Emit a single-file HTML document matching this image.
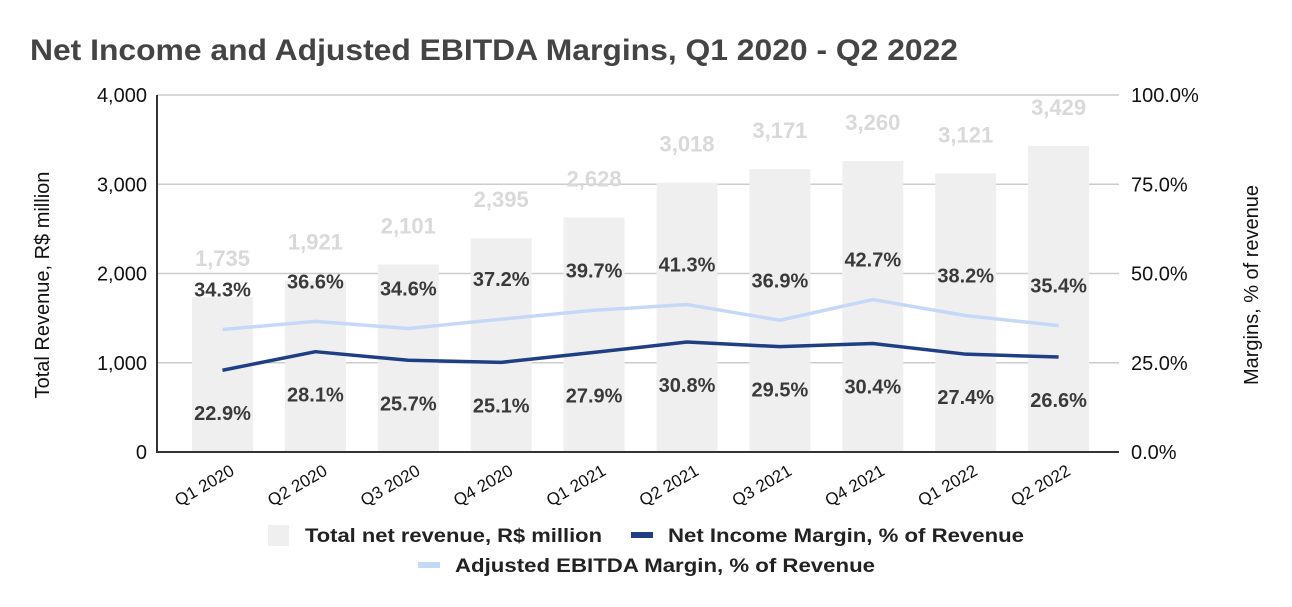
<!DOCTYPE html>
<html><head><meta charset="utf-8"><style>
html,body{margin:0;padding:0;background:#fff;width:1292px;height:607px;overflow:hidden}
svg text{font-family:"Liberation Sans",Arial,sans-serif}
</style></head><body>
<svg id="chart" width="1292" height="607" viewBox="0 0 1292 607" xmlns="http://www.w3.org/2000/svg">
<text x="30" y="60" font-size="30" font-weight="bold" fill="#444" textLength="928" lengthAdjust="spacingAndGlyphs">Net Income and Adjusted EBITDA Margins, Q1 2020 - Q2 2022</text>
<g id="grid"></g>
<g id="bars"></g>
<g id="lines"></g>
<g id="labels"></g>
<g id="axes"></g>
<text transform="translate(49,285) rotate(-90)" text-anchor="middle" font-size="20" fill="#111">Total Revenue, R$ million</text>
<text transform="translate(1258,285) rotate(-90)" text-anchor="middle" font-size="20" fill="#111">Margins, % of revenue</text>
<g>
<rect x="268" y="525" width="21" height="21" fill="#efefef"/>
<text x="305" y="542" font-size="19" font-weight="bold" fill="#222" textLength="297" lengthAdjust="spacingAndGlyphs">Total net revenue, R$ million</text>
<rect x="631" y="532" width="22" height="6" fill="#1f3f84"/>
<text x="668" y="542" font-size="19" font-weight="bold" fill="#222" textLength="356" lengthAdjust="spacingAndGlyphs">Net Income Margin, % of Revenue</text>
<rect x="418" y="562" width="22" height="6" fill="#c6d8f7"/>
<text x="455" y="572" font-size="19" font-weight="bold" fill="#222" textLength="420" lengthAdjust="spacingAndGlyphs">Adjusted EBITDA Margin, % of Revenue</text>
</g>
</svg>
<script>
const categories=["Q1 2020","Q2 2020","Q3 2020","Q4 2020","Q1 2021","Q2 2021","Q3 2021","Q4 2021","Q1 2022","Q2 2022"];
const revenue=[1735,1921,2101,2395,2628,3018,3171,3260,3121,3429];
const netIncomeMargin=[22.9,28.1,25.7,25.1,27.9,30.8,29.5,30.4,27.4,26.6];
const ebitdaMargin=[34.3,36.6,34.6,37.2,39.7,41.3,36.9,42.7,38.2,35.4];
const leftTicks=[0,1000,2000,3000,4000];
const rightTicks=[0,25,50,75,100];

const NS="http://www.w3.org/2000/svg";
const top0=95,bot=452,plotL=157,plotR=1119;
function x(i){return 222.5+92.9*i;}
function yL(v){return bot-(v/4000)*(bot-top0);}
function yR(v){return bot-(v/100)*(bot-top0);}
function mk(tag,attrs,parent){const e=document.createElementNS(NS,tag);for(const k in attrs)e.setAttribute(k,attrs[k]);document.getElementById(parent).appendChild(e);return e;}
function fmt(n){return n.toLocaleString("en-US");}

leftTicks.forEach((t,i)=>{
  const g=mk("line",{x1:plotL,x2:plotR,y1:yL(t),y2:yL(t),stroke:"#cccccc","stroke-width":1.5},"grid");
  
  
  const l=mk("text",{x:147,y:yL(t)+7,"text-anchor":"end","font-size":20,fill:"#111"},"axes");
  l.textContent=fmt(t);
  
  
});
rightTicks.forEach(t=>{
  const l=mk("text",{x:1131,y:yR(t)+7,"font-size":20,fill:"#111"},"axes");
  l.textContent=t.toFixed(1)+"%";
  
  
});
const ax=mk("path",{d:`M${plotL} ${top0} V${bot} H${plotR}`,stroke:"#333","stroke-width":2,fill:"none"},"axes");



categories.forEach((c,i)=>{
  const b=mk("rect",{x:x(i)-30.5,y:yL(revenue[i]),width:61,height:bot-yL(revenue[i]),fill:"#efefef"},"bars");
  
  
  const t=mk("text",{"text-anchor":"end","font-size":17,fill:"#111",transform:`translate(${x(i)+13},${474}) rotate(-30)`},"axes");
  t.textContent=c;
  
  
  const rl=mk("text",{x:x(i),y:yL(revenue[i])-31,"text-anchor":"middle","font-size":22,"font-weight":"bold",fill:"#d9d9d9"},"labels");
  rl.textContent=fmt(revenue[i]);
  
  
  const el=mk("text",{x:x(i),y:yR(ebitdaMargin[i])-33,"text-anchor":"middle","font-size":20,"font-weight":"bold",fill:"#3a3a3a"},"labels");
  el.textContent=ebitdaMargin[i].toFixed(1)+"%";
  
  
  const nl=mk("text",{x:x(i),y:yR(netIncomeMargin[i])+50,"text-anchor":"middle","font-size":20,"font-weight":"bold",fill:"#3a3a3a"},"labels");
  nl.textContent=netIncomeMargin[i].toFixed(1)+"%";
  
  
});
const ep=mk("polyline",{points:ebitdaMargin.map((v,i)=>x(i)+","+yR(v)).join(" "),fill:"none",stroke:"#c6d8f7","stroke-width":3.5,"stroke-linejoin":"round"},"lines");


const np=mk("polyline",{points:netIncomeMargin.map((v,i)=>x(i)+","+yR(v)).join(" "),fill:"none",stroke:"#1f3f84","stroke-width":3.5,"stroke-linejoin":"round"},"lines");


</script>
</body></html>
